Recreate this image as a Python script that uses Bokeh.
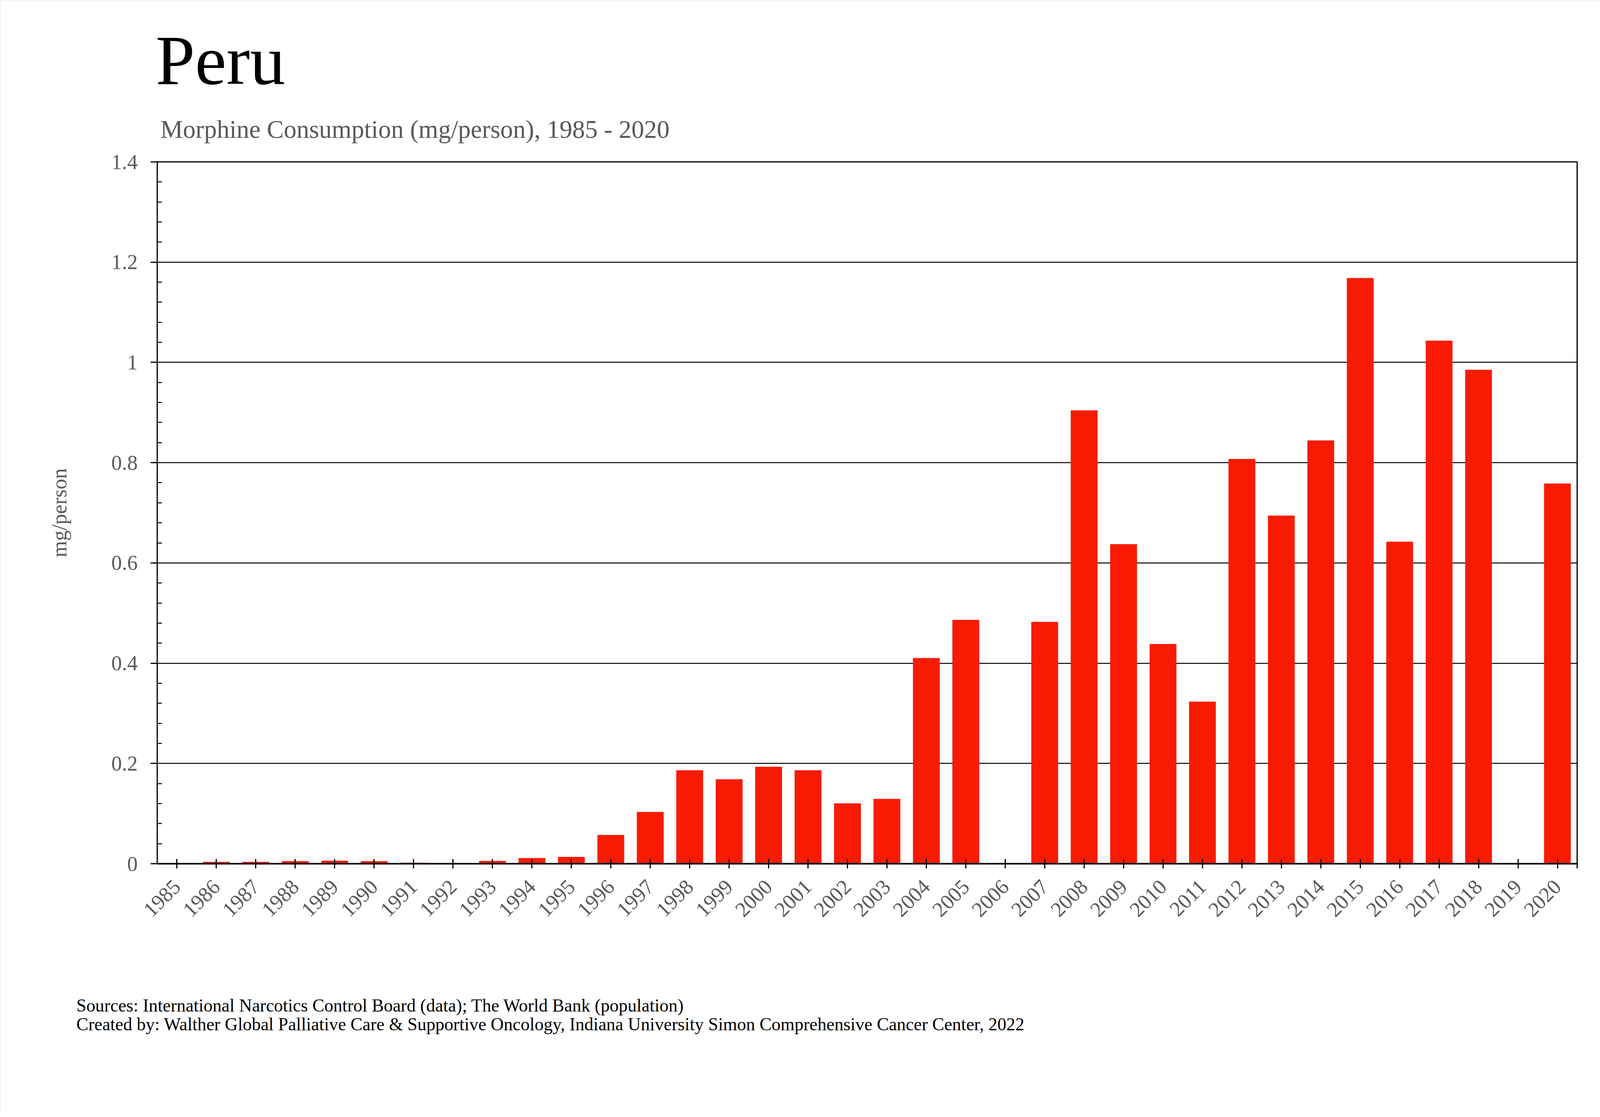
import math
from bokeh.plotting import figure
from bokeh.models import (Range1d, FixedTicker, NumeralTickFormatter, Title, ColumnDataSource)
from bokeh.embed import file_html
from bokeh.resources import INLINE

NAN = float("nan")

# ---- data ----
years = list(range(1985, 2021))
morphine_mg_per_person = [
    NAN, 0.0034, 0.0034, 0.0049, 0.0057, 0.0047, 0.0016, NAN, 0.0052, 0.011,
    0.0133, 0.057, 0.103, 0.186, 0.168, 0.193, 0.186, 0.120, 0.129, 0.410,
    0.486, NAN, 0.482, 0.904, 0.637, 0.438, 0.323, 0.807, 0.694, 0.844,
    1.168, 0.642, 1.043, 0.985, NAN, 0.758,
]
y_ticks = [0, 0.2, 0.4, 0.6, 0.8, 1.0, 1.2, 1.4]

title_text = "Peru"
subtitle_text = "Morphine Consumption (mg/person), 1985 - 2020"
y_axis_title = "mg/person"
footer_lines = [
    "Sources: International Narcotics Control Board (data); The World Bank (population)",
    "Created by: Walther  Global Palliative Care & Supportive Oncology, Indiana University Simon Comprehensive Cancer Center, 2022",
]

FONT = "Liberation Serif"
GREY = "#595959"
BAR = "#F81B04"

W, H = 4205, 2844
LEFT, RIGHT, TOP, BOTTOM = 402, 168, 414, 633

# minor ticks: 4 between each pair of majors
minor = []
for a, b in zip(y_ticks[:-1], y_ticks[1:]):
    minor += [a + (b - a) * k / 5 for k in range(1, 5)]
y_ticker = FixedTicker(ticks=y_ticks, minor_ticks=minor)

source = ColumnDataSource(data=dict(year=years, value=morphine_mg_per_person))

p = figure(width=W, height=H, output_backend="svg", toolbar_location=None,
           x_range=Range1d(years[0] - 0.5, years[-1] + 0.5),
           y_range=Range1d(0, 1.4),
           min_border_left=LEFT, min_border_right=RIGHT,
           min_border_top=TOP, min_border_bottom=BOTTOM)
p.background_fill_color = "white"
p.border_fill_color = "white"
p.outline_line_color = "black"
p.outline_line_width = 3
p.styles = {"outline": "3px solid #d9d9d9", "outline-offset": "-3px"}

p.vbar(x="year", top="value", bottom=0, width=0.67, source=source,
       fill_color=BAR, line_color=BAR, line_width=1)

# grid
p.xgrid.grid_line_color = None
p.ygrid.grid_line_color = "black"
p.ygrid.grid_line_width = 2.5
p.ygrid.ticker = y_ticker

# x axis
xa = p.xaxis[0]
xa.ticker = FixedTicker(ticks=years + [years[-1] + 0.5])
xa.major_label_overrides = {years[-1] + 0.5: ""}
xa.major_label_orientation = math.pi / 4
xa.major_label_text_font = FONT
xa.major_label_text_font_size = "54px"
xa.major_label_text_color = GREY
xa.major_label_standoff = 38
xa.axis_line_color = "black"
xa.axis_line_width = 4
xa.major_tick_line_color = "black"
xa.major_tick_line_width = 3
xa.major_tick_in = 12
xa.major_tick_out = 12
xa.minor_tick_line_color = None

# y axis
ya = p.yaxis[0]
ya.ticker = y_ticker
ya.formatter = NumeralTickFormatter(format="0.[0]")
ya.major_label_text_font = FONT
ya.major_label_text_font_size = "54px"
ya.major_label_text_color = GREY
ya.major_label_standoff = 33
ya.axis_line_color = "black"
ya.axis_line_width = 3
ya.major_tick_line_color = "black"
ya.major_tick_line_width = 3
ya.major_tick_in = 0
ya.major_tick_out = 17
ya.minor_tick_line_color = "black"
ya.minor_tick_line_width = 2.5
ya.minor_tick_in = 12
ya.minor_tick_out = 0
ya.axis_label = y_axis_title
ya.axis_label_text_font = FONT
ya.axis_label_text_font_size = "54px"
ya.axis_label_text_font_style = "normal"
ya.axis_label_text_color = GREY
ya.axis_label_standoff = 100

# titles above (first added sits nearest the frame)
p.add_layout(Title(text=subtitle_text, align="left", offset=8, standoff=96,
                   text_font=FONT, text_font_size="65px", text_font_style="normal",
                   text_color=GREY), "above")
p.add_layout(Title(text=title_text, align="left", offset=-4, standoff=-18,
                   text_font=FONT, text_font_size="181px", text_font_style="normal",
                   text_color="black"), "above")

# footer below (after the x axis), two lines in one title
p.add_layout(Title(text="\n".join(footer_lines), align="left", offset=-207, standoff=361,
                   text_font=FONT, text_font_size="46px", text_font_style="normal",
                   text_line_height=0.95, text_color="black"), "below")

open("out.html", "w").write(file_html(p, INLINE))
